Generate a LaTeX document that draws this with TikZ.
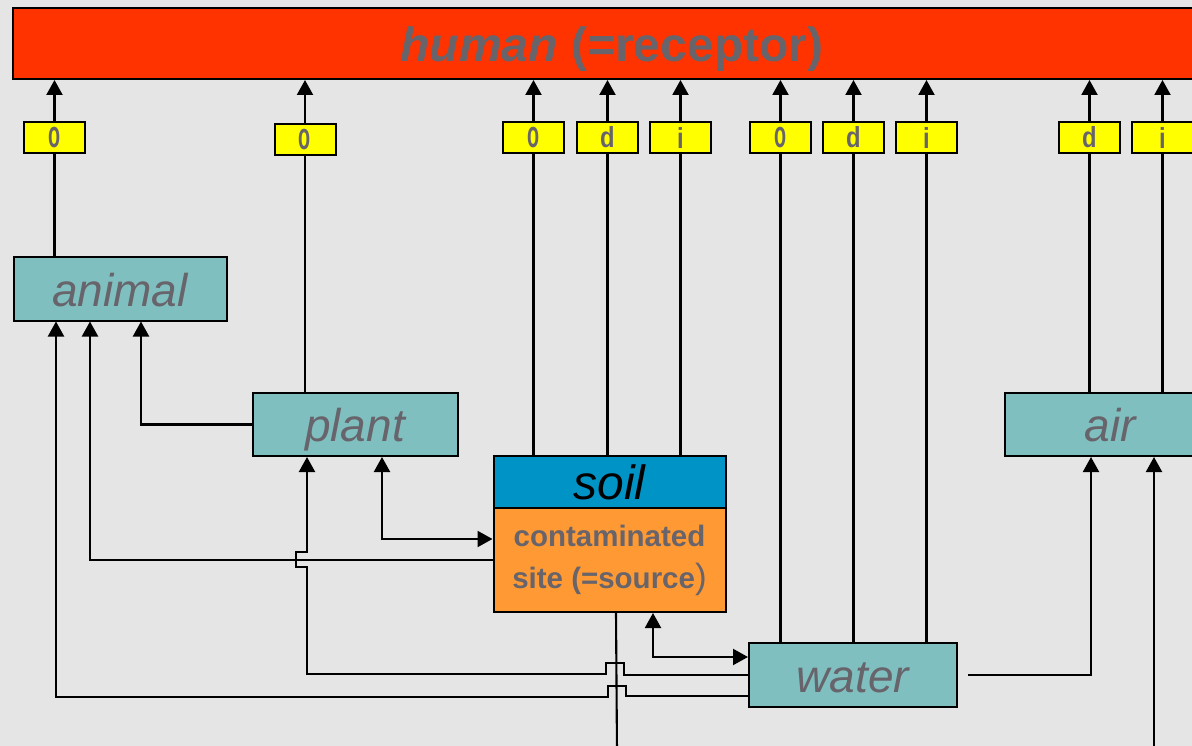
\documentclass[tikz,border=0pt]{standalone}
\usepackage{fontspec}
\usepackage{graphicx}
\setmainfont{Liberation Sans}
\usetikzlibrary{arrows.meta,calc}

\definecolor{bgc}{HTML}{E5E5E5}
\definecolor{receptor}{HTML}{FF3300}
\definecolor{pathbox}{HTML}{FFFF00}
\definecolor{media}{HTML}{80BFBF}
\definecolor{soilblue}{HTML}{0094C6}
\definecolor{source}{HTML}{FF9933}
\definecolor{txt}{HTML}{67646B}

\newcommand{\rl}[1]{\scalebox{0.82}[1]{#1}}
\newcommand{\ro}{\scalebox{0.68}[1.3]{o}}

\begin{document}
\begin{tikzpicture}[x=1pt,y=-1pt,
  >={Triangle[length=15pt,width=16pt]},
  box/.style={draw=black,line width=2pt,rectangle,inner sep=0pt,text=txt},
  route/.style={box,fill=pathbox,minimum width=61pt,minimum height=31pt,
                font=\fontsize{29}{29}\selectfont\bfseries},
  medium/.style={box,fill=media,minimum height=63pt,text height=34pt,text depth=0pt,
                 font=\fontsize{46}{50}\selectfont\itshape},
  wire/.style={draw=black,line width=2.1pt}]

\useasboundingbox (0,0) rectangle (1192,746);
\clip (0,0) rectangle (1192,746);
\fill[bgc] (0,0) rectangle (1192,746);

% receptor
\node[box,fill=receptor,minimum width=1198pt,minimum height=71pt,
      text height=40pt,text depth=3pt,
      font=\fontsize{48}{60}\selectfont\bfseries] (human) at (612,43.5)
      {{\itshape human} (=receptor)};

% exposure routes
\node[route] (o1) at (54.5,137.5) {\ro};
\node[route] (o2) at (305,139.5) {\ro};
\node[route] (o3) at (533.5,137.5) {\ro};
\node[route] (d1) at (607.5,137.5) {\rl{d}};
\node[route] (i1) at (680.5,137.5) {\rl{i}};
\node[route] (o4) at (780.5,137.5) {\ro};
\node[route] (d2) at (853.5,137.5) {\rl{d}};
\node[route] (i2) at (926.5,137.5) {\rl{i}};
\node[route] (d3) at (1089.5,137.5) {\rl{d}};
\node[route] (i3) at (1162.5,137.5) {\rl{i}};

% media
\node[medium,minimum width=213pt] (animal) at (120,289) {animal};
\node[medium,minimum width=205pt] (plant) at (355,424.5) {plant};
\node[medium,minimum width=208pt,minimum height=64pt] (water) at (853,675) {water};
\node[medium,minimum width=210pt] (air) at (1110,424.5) {air};
\node[box,fill=soilblue,text=black,minimum width=232pt,minimum height=52pt,
      text height=36pt,text depth=0pt,
      font=\fontsize{48}{50}\selectfont\itshape] (soil) at (609.5,481.5) {soil};
\node[box,fill=source,minimum width=232pt,minimum height=104pt,align=center,
      font=\fontsize{29.5}{42}\selectfont\bfseries] (site) at (609.5,560)
      {contaminated\\site (=source{\mdseries\fontsize{35}{42}\selectfont)}};

% routes into the receptor
\foreach \r in {o1,o2,o3,d1,i1,o4,d2,i2,d3,i3}
  \draw[wire,->] (\r.north) -- (\r.north |- human.south);

% media feeding the routes
\draw[wire] (animal.north -| o1.south) -- (o1.south);
\draw[wire] (plant.north -| o2.south) -- (o2.south);
\foreach \r in {o3,d1,i1} \draw[wire] (soil.north -| \r.south) -- (\r.south);
\foreach \r in {o4,d2,i2} \draw[wire] (water.north -| \r.south) -- (\r.south);
\foreach \r in {d3,i3} \draw[wire] (air.north -| \r.south) -- (\r.south);

% transfers between media
\draw[wire,->] (plant.west) -| (animal.south -| 141,0);
\draw[wire,->] (site.west) -| (animal.south -| 90,0);
\draw[wire,<->] (plant.south -| 382,0) |- (site.west |- 0,539);
\draw[wire,<->] (site.south -| 653,0) |- (water.west |- 0,657);
\draw[wire,->] (water.west) -- (624,675) -- (624,663) -- (606,663) -- (606,674)
  -- (307,674) -- (307,567) -- (296,567) -- (296,552) -- (307,552)
  -- (plant.south -| 307,0);
\draw[wire,->] (water.west |- 0,696) -- (626,696) -- (626,686) -- (608,686)
  -- (608,697) -- (56,697) -- (animal.south -| 56,0);
\draw[wire,->] ([xshift=10pt]water.east) -| (air.south -| 1091,0);

% connectors leaving and entering below
\coordinate (down) at (617,752);
\coordinate (up) at (1154,752);
\draw[wire] (site.south -| 616,0) -- (down);
\draw[wire,->] (up) -- (air.south -| up);
\end{tikzpicture}
\end{document}
